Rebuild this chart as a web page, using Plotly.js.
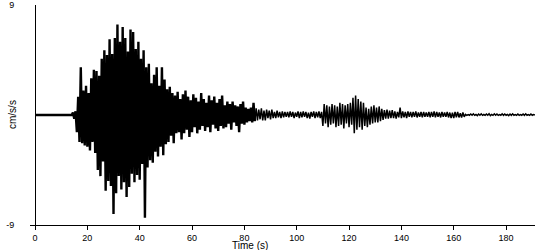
<!DOCTYPE html>
<html>
<head>
<meta charset="utf-8">
<script src="https://cdn.plot.ly/plotly-3.0.1.min.js"></script>
<style>html,body{margin:0;padding:0;background:#fff;}#chart{width:550px;height:250px;}</style>
</head>
<body>
<div id="chart"></div>
<script>
// Pre-event quiet segment (time s, acceleration cm/s/s)
const preEventTime = [0, 14.0];
const preEventAccel = [0, 0];

const sampleStep = 0.5;

// Strong-motion part: 14.5 s to 84.0 s
const burstStart = 14.5;
const accelBurst = [
  // 14.5 - 24.0
  0.2, -0.3, 0.3, -1.4, 1.5, -2.2, 3.9, -2.3, 2.0, -2.5, 2.4, -2.6, 1.8, -2.9, 3.0, -2.2, 3.7, -3.1, 3.6, -4.5,
  // 24.5 - 34.0
  3.2, -5.0, 4.6, -3.8, 5.3, -6.2, 4.9, -5.4, 6.2, -5.8, 5.0, -8.1, 6.3, -6.4, 7.4, -5.0, 6.0, -6.1, 7.2, -5.5,
  // 34.5 - 44.0
  6.3, -6.7, 5.2, -5.9, 7.0, -4.8, 6.8, -5.5, 5.4, -4.9, 6.0, -5.3, 4.6, -4.0, 5.3, -8.4, 3.9, -4.3, 4.2, -3.7,
  // 44.5 - 54.0
  2.6, -3.9, 3.3, -3.0, 3.9, -3.4, 2.4, -2.6, 3.9, -3.3, 2.9, -2.4, 2.1, -2.2, 2.3, -1.7, 1.8, -2.3, 1.6, -1.5,
  // 54.5 - 64.0
  1.9, -1.4, 1.3, -2.0, 1.7, -1.5, 2.0, -1.2, 1.5, -1.8, 1.2, -1.4, 1.7, -1.0, 1.4, -1.5, 1.1, -1.2, 1.8, -0.9,
  // 64.5 - 74.0
  1.3, -1.3, 1.0, -1.0, 1.6, -1.4, 1.2, -0.8, 1.5, -1.1, 1.0, -1.3, 1.3, -0.9, 1.6, -1.1, 0.8, -1.0, 1.1, -0.7,
  // 74.5 - 84.0
  0.9, -1.2, 1.1, -0.6, 0.8, -0.9, 0.7, -1.4, 0.9, -0.7, 1.1, -0.8, 0.6, -0.6, 0.5, -0.5, 0.6, -0.6, 1.0, -0.5
];

// Coda: 84.5 s to 191.0 s
const codaStart = 84.5;
const accelCoda = [
  // 84.5 - 94.0
  0.55, -0.45, 0.45, -0.35, 0.55, -0.45, 0.35, -0.45, 0.45, -0.25, 0.35, -0.35, 0.45, -0.25, 0.25, -0.25, 0.35, -0.2, 0.25, -0.25,
  // 94.5 - 104.0
  0.3, -0.2, 0.25, -0.15, 0.25, -0.2, 0.3, -0.15, 0.25, -0.25, 0.2, -0.15, 0.3, -0.25, 0.25, -0.2, 0.3, -0.15, 0.25, -0.25,
  // 104.5 - 114.0
  0.2, -0.3, 0.25, -0.15, 0.3, -0.25, 0.25, -0.2, 0.3, -0.25, 0.25, -0.9, 0.9, -0.7, 0.8, -1.0, 0.7, -0.8, 0.9, -0.7,
  // 114.5 - 124.0
  0.8, -1.0, 0.7, -0.9, 1.0, -0.8, 0.9, -1.1, 0.8, -0.7, 0.9, -1.0, 1.0, -0.8, 1.4, -1.5, 1.6, -1.2, 1.3, -1.0,
  // 124.5 - 134.0
  1.1, -1.2, 1.0, -0.9, 0.6, -1.0, 0.5, -0.8, 0.7, -0.7, 0.8, -0.6, 0.6, -0.6, 0.7, -0.5, 0.5, -0.4, 0.4, -0.3,
  // 134.5 - 144.0
  0.45, -0.3, 0.35, -0.25, 0.4, -0.25, 0.3, -0.3, 0.25, -0.2, 0.6, -0.25, 0.3, -0.2, 0.25, -0.25, 0.3, -0.15, 0.25, -0.2,
  // 144.5 - 154.0
  0.25, -0.15, 0.3, -0.2, 0.2, -0.15, 0.25, -0.2, 0.25, -0.15, 0.2, -0.15, 0.25, -0.2, 0.25, -0.15, 0.3, -0.2, 0.25, -0.15,
  // 154.5 - 164.0
  0.2, -0.2, 0.25, -0.15, 0.2, -0.15, 0.25, -0.2, 0.2, -0.25, 0.2, -0.25, 0.25, -0.2, 0.25, -0.2, 0.15, -0.2, 0.2, -0.15,
  // 164.5 - 174.0
  0.05, -0.03, 0.04, -0.02, 0.08, -0.02, 0.1, -0.03, 0.04, -0.05, 0.08, -0.02, 0.1, -0.03, 0.04, -0.03, 0.08, -0.02, 0.1, -0.05,
  // 174.5 - 184.0
  0.04, -0.03, 0.1, -0.02, 0.08, -0.03, 0.04, -0.02, 0.1, -0.03, 0.08, -0.02, 0.04, -0.05, 0.08, -0.03, 0.1, -0.02, 0.04, -0.03,
  // 184.5 - 191.0
  0.08, -0.03, 0.04, -0.02, 0.08, -0.03, 0.1, -0.02, 0.04, -0.03, 0.08, -0.02, 0.04, 0.0
];

const xTickVals = [0, 20, 40, 60, 80, 100, 120, 140, 160, 180];
const yTickVals = [-9, 9];
const yTickText = ['-9', '9'];
const xTitle = 'Time (s)';
const yTitle = 'cm/s/s';

const burstTime = accelBurst.map((_, i) => burstStart + i * sampleStep);
const codaTime = accelCoda.map((_, i) => codaStart + i * sampleStep);

const font = {family: 'Liberation Sans, Arial, sans-serif', size: 10, color: '#000'};
const tickFont = {family: 'Liberation Sans, Arial, sans-serif', size: 9, color: '#000'};

const burstTrace = {
  type: 'scatter', mode: 'lines',
  x: preEventTime.concat(burstTime),
  y: preEventAccel.concat(accelBurst),
  line: {color: '#000', width: 2.4, simplify: false},
  hoverinfo: 'skip'
};
// the coda line starts at the last strong-motion sample so the record is continuous
const codaTrace = {
  type: 'scatter', mode: 'lines',
  x: [burstTime[burstTime.length - 1]].concat(codaTime),
  y: [accelBurst[accelBurst.length - 1]].concat(accelCoda),
  line: {color: '#000', width: 1.5, simplify: false},
  hoverinfo: 'skip'
};

const layout = {
  width: 550, height: 250,
  margin: {l: 30, r: 15, t: 5, b: 25, pad: 0},
  paper_bgcolor: '#fff', plot_bgcolor: '#fff',
  showlegend: false,
  font: font,
  xaxis: {
    range: [-1.91, 191.05],
    tickvals: xTickVals,
    ticktext: xTickVals.map(String),
    showgrid: false, zeroline: false,
    showline: true, linecolor: '#000', linewidth: 1,
    ticks: 'outside', ticklen: 4, tickcolor: '#000', tickwidth: 1,
    tickfont: tickFont
  },
  yaxis: {
    range: [-9, 9],
    anchor: 'free', position: 0.0099,
    tickvals: yTickVals, ticktext: yTickText,
    showgrid: false, zeroline: false,
    showline: true, linecolor: '#000', linewidth: 1,
    ticks: '', ticklabelstandoff: 19,
    ticklabeloverflow: 'allow',
    tickfont: tickFont
  },
  annotations: [
    {text: xTitle, xref: 'paper', yref: 'paper', x: (250 - 30) / 505, y: -14 / 220,
     xanchor: 'center', yanchor: 'top', borderpad: 0, showarrow: false, font: font},
    {text: yTitle, xref: 'paper', yref: 'paper', x: -18 / 505, y: 0.5, textangle: -90,
     xanchor: 'center', yanchor: 'middle', showarrow: false, font: font}
  ]
};

Plotly.newPlot('chart', [burstTrace, codaTrace], layout, {staticPlot: true, displayModeBar: false});
</script>
</body>
</html>
